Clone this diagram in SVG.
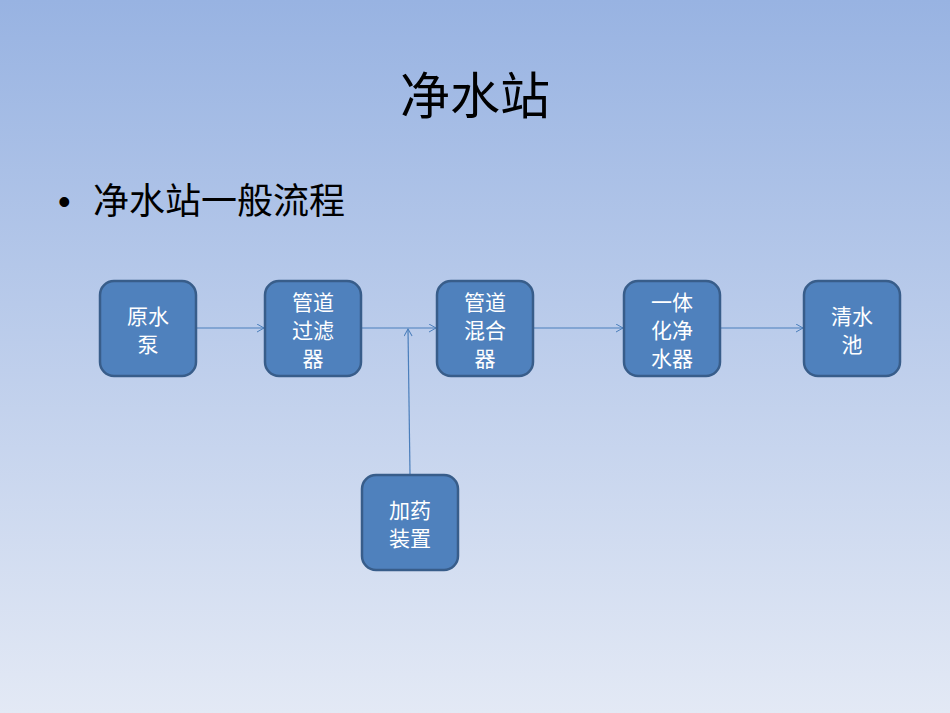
<svg xmlns="http://www.w3.org/2000/svg" width="950" height="713" viewBox="0 0 950 713">
<defs>
<linearGradient id="bg" x1="0" y1="0" x2="0" y2="1"><stop offset="0" stop-color="#98b3e2"/><stop offset="1" stop-color="#e3e9f5"/></linearGradient>
<marker id="ah" markerWidth="10" markerHeight="10" refX="8" refY="4" orient="auto" markerUnits="userSpaceOnUse"><path d="M1,0 L8,4 L1,8" fill="none" stroke="#4a7ebb" stroke-width="1"/></marker>
<style>
.b{fill:#4f81bd;stroke:#385d8a;stroke-width:2.5}
.t{font-family:"Liberation Sans","Noto Sans CJK SC",sans-serif;font-size:21px;fill:#fff;text-anchor:middle}
.c{stroke:#4a7ebb;stroke-width:1.2;fill:none;marker-end:url(#ah)}
</style>
</defs>
<rect width="950" height="713" fill="url(#bg)"/>
<text x="475" y="114" font-family="Liberation Sans,Noto Sans CJK SC,sans-serif" font-size="50" text-anchor="middle" fill="#000">净水站</text>
<text x="58" y="214" font-family="Liberation Sans,Noto Sans CJK SC,sans-serif" font-size="36" fill="#000">•</text>
<text x="93" y="214" font-family="Liberation Sans,Noto Sans CJK SC,sans-serif" font-size="36" fill="#000">净水站一般流程</text>
<g id="connectors">
<path class="c" d="M197,328 H264"/>
<path class="c" d="M362,328 H436"/>
<path class="c" d="M534,328 H623"/>
<path class="c" d="M721,328 H803"/>
<path class="c" d="M410,474 L408,329"/>
</g>
<g id="n1"><rect class="b" x="100" y="281" width="96" height="95" rx="14"/><text class="t" x="148" y="324">原水</text><text class="t" x="148" y="352">泵</text></g>
<g id="n2"><rect class="b" x="265" y="281" width="96" height="95" rx="14"/><text class="t" x="313" y="310">管道</text><text class="t" x="313" y="338">过滤</text><text class="t" x="313" y="366">器</text></g>
<g id="n3"><rect class="b" x="437" y="281" width="96" height="95" rx="14"/><text class="t" x="485" y="310">管道</text><text class="t" x="485" y="338">混合</text><text class="t" x="485" y="366">器</text></g>
<g id="n4"><rect class="b" x="624" y="281" width="96" height="95" rx="14"/><text class="t" x="672" y="310">一体</text><text class="t" x="672" y="338">化净</text><text class="t" x="672" y="366">水器</text></g>
<g id="n5"><rect class="b" x="804" y="281" width="96" height="95" rx="14"/><text class="t" x="852" y="324">清水</text><text class="t" x="852" y="352">池</text></g>
<g id="n6"><rect class="b" x="362" y="475" width="96" height="95" rx="14"/><text class="t" x="410" y="518">加药</text><text class="t" x="410" y="546">装置</text></g>
</svg>
